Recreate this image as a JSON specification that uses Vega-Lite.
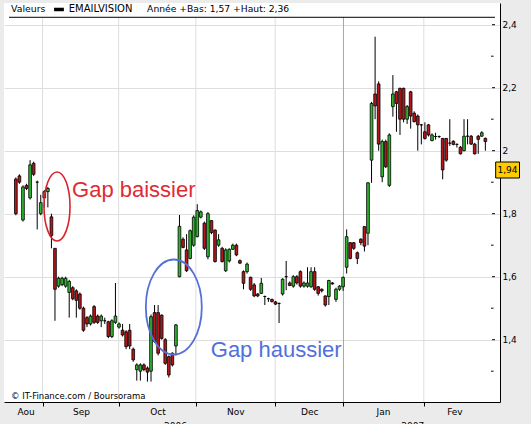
{
  "$schema": "https://vega.github.io/schema/vega-lite/v6.json",
  "width": 496,
  "height": 399,
  "autosize": {"type": "none"},
  "padding": {"left": 4, "top": 3, "right": 31, "bottom": 22},
  "background": "#ebebeb",
  "config": {"view": {"fill": "white", "stroke": null}, "font": "DejaVu Sans"},
  "resolve": {"axis": {"x": "independent", "y": "independent"}},
  "data": {"values": [{}]},
  "datasets": {
    "px": [
      {"i":0,"o":1.91,"c":1.80,"h":1.915,"l":1.795},
      {"i":1,"o":1.92,"c":1.90,"h":1.925,"l":1.895},
      {"i":2,"o":1.78,"c":1.885,"h":1.89,"l":1.775},
      {"i":3,"o":1.89,"c":1.88,"h":1.895,"l":1.875},
      {"i":4,"o":1.85,"c":1.955,"h":1.97,"l":1.845},
      {"i":5,"o":1.96,"c":1.925,"h":1.965,"l":1.92},
      {"i":6,"o":1.90,"c":1.90,"h":1.905,"l":1.75},
      {"i":7,"o":1.80,"c":1.835,"h":1.86,"l":1.795},
      {"i":8,"o":1.85,"c":1.87,"h":1.875,"l":1.82},
      {"i":9,"o":1.87,"c":1.88,"h":1.885,"l":1.82},
      {"i":10,"o":1.79,"c":1.73,"h":1.80,"l":1.69},
      {"i":11,"o":1.69,"c":1.56,"h":1.69,"l":1.46},
      {"i":12,"o":1.57,"c":1.595,"h":1.60,"l":1.565},
      {"i":13,"o":1.575,"c":1.595,"h":1.60,"l":1.57},
      {"i":14,"o":1.57,"c":1.595,"h":1.60,"l":1.565},
      {"i":15,"o":1.55,"c":1.585,"h":1.59,"l":1.47},
      {"i":16,"o":1.565,"c":1.53,"h":1.57,"l":1.525},
      {"i":17,"o":1.555,"c":1.525,"h":1.56,"l":1.47},
      {"i":18,"o":1.545,"c":1.50,"h":1.55,"l":1.495},
      {"i":19,"o":1.50,"c":1.43,"h":1.505,"l":1.425},
      {"i":20,"o":1.47,"c":1.45,"h":1.475,"l":1.44},
      {"i":21,"o":1.45,"c":1.475,"h":1.48,"l":1.445},
      {"i":22,"o":1.505,"c":1.455,"h":1.51,"l":1.45},
      {"i":23,"o":1.475,"c":1.455,"h":1.48,"l":1.45},
      {"i":24,"o":1.46,"c":1.475,"h":1.48,"l":1.44},
      {"i":25,"o":1.46,"c":1.46,"h":1.47,"l":1.45},
      {"i":26,"o":1.457,"c":1.41,"h":1.46,"l":1.405},
      {"i":27,"o":1.41,"c":1.46,"h":1.465,"l":1.405},
      {"i":28,"o":1.455,"c":1.475,"h":1.58,"l":1.45},
      {"i":29,"o":1.44,"c":1.45,"h":1.455,"l":1.435},
      {"i":30,"o":1.43,"c":1.415,"h":1.45,"l":1.41},
      {"i":31,"o":1.425,"c":1.378,"h":1.43,"l":1.37},
      {"i":32,"o":1.43,"c":1.38,"h":1.45,"l":1.37},
      {"i":33,"o":1.37,"c":1.336,"h":1.375,"l":1.33},
      {"i":34,"o":1.305,"c":1.32,"h":1.325,"l":1.27},
      {"i":35,"o":1.30,"c":1.32,"h":1.325,"l":1.27},
      {"i":36,"o":1.32,"c":1.305,"h":1.325,"l":1.30},
      {"i":37,"o":1.31,"c":1.297,"h":1.315,"l":1.267},
      {"i":38,"o":1.30,"c":1.473,"h":1.48,"l":1.267},
      {"i":39,"o":1.486,"c":1.394,"h":1.51,"l":1.39},
      {"i":40,"o":1.486,"c":1.357,"h":1.51,"l":1.35},
      {"i":41,"o":1.478,"c":1.404,"h":1.48,"l":1.40},
      {"i":42,"o":1.40,"c":1.325,"h":1.405,"l":1.32},
      {"i":43,"o":1.346,"c":1.288,"h":1.35,"l":1.28},
      {"i":44,"o":1.357,"c":1.32,"h":1.36,"l":1.315},
      {"i":45,"o":1.38,"c":1.447,"h":1.45,"l":1.35},
      {"i":46,"o":1.60,"c":1.76,"h":1.796,"l":1.598},
      {"i":47,"o":1.719,"c":1.693,"h":1.725,"l":1.69},
      {"i":48,"o":1.685,"c":1.619,"h":1.735,"l":1.615},
      {"i":49,"o":1.658,"c":1.746,"h":1.75,"l":1.655},
      {"i":50,"o":1.70,"c":1.789,"h":1.795,"l":1.695},
      {"i":51,"o":1.727,"c":1.81,"h":1.83,"l":1.725},
      {"i":52,"o":1.789,"c":1.806,"h":1.81,"l":1.785},
      {"i":53,"o":1.77,"c":1.69,"h":1.775,"l":1.685},
      {"i":54,"o":1.663,"c":1.80,"h":1.805,"l":1.655},
      {"i":55,"o":1.778,"c":1.74,"h":1.78,"l":1.735},
      {"i":56,"o":1.748,"c":1.648,"h":1.75,"l":1.645},
      {"i":57,"o":1.70,"c":1.717,"h":1.735,"l":1.695},
      {"i":58,"o":1.69,"c":1.648,"h":1.695,"l":1.645},
      {"i":59,"o":1.619,"c":1.685,"h":1.69,"l":1.615},
      {"i":60,"o":1.65,"c":1.687,"h":1.69,"l":1.645},
      {"i":61,"o":1.687,"c":1.70,"h":1.705,"l":1.685},
      {"i":62,"o":1.70,"c":1.669,"h":1.705,"l":1.665},
      {"i":63,"o":1.651,"c":1.643,"h":1.655,"l":1.64},
      {"i":64,"o":1.616,"c":1.579,"h":1.62,"l":1.56},
      {"i":65,"o":1.616,"c":1.64,"h":1.645,"l":1.61},
      {"i":66,"o":1.598,"c":1.56,"h":1.60,"l":1.555},
      {"i":67,"o":1.574,"c":1.539,"h":1.58,"l":1.535},
      {"i":68,"o":1.545,"c":1.539,"h":1.548,"l":1.535},
      {"i":69,"o":1.547,"c":1.579,"h":1.596,"l":1.545},
      {"i":70,"o":1.537,"c":1.537,"h":1.54,"l":1.51},
      {"i":71,"o":1.53,"c":1.53,"h":1.533,"l":1.52},
      {"i":72,"o":1.528,"c":1.521,"h":1.53,"l":1.518},
      {"i":73,"o":1.52,"c":1.513,"h":1.523,"l":1.51},
      {"i":74,"o":1.515,"c":1.515,"h":1.518,"l":1.453},
      {"i":75,"o":1.545,"c":1.592,"h":1.595,"l":1.54},
      {"i":76,"o":1.60,"c":1.60,"h":1.65,"l":1.557},
      {"i":77,"o":1.58,"c":1.572,"h":1.585,"l":1.57},
      {"i":78,"o":1.57,"c":1.60,"h":1.605,"l":1.565},
      {"i":79,"o":1.60,"c":1.58,"h":1.605,"l":1.575},
      {"i":80,"o":1.616,"c":1.57,"h":1.62,"l":1.565},
      {"i":81,"o":1.57,"c":1.58,"h":1.585,"l":1.565},
      {"i":82,"o":1.57,"c":1.58,"h":1.63,"l":1.565},
      {"i":83,"o":1.568,"c":1.616,"h":1.63,"l":1.565},
      {"i":84,"o":1.616,"c":1.56,"h":1.63,"l":1.555},
      {"i":85,"o":1.568,"c":1.547,"h":1.57,"l":1.54},
      {"i":86,"o":1.56,"c":1.555,"h":1.563,"l":1.55},
      {"i":87,"o":1.539,"c":1.51,"h":1.54,"l":1.505},
      {"i":88,"o":1.537,"c":1.588,"h":1.59,"l":1.51},
      {"i":89,"o":1.58,"c":1.577,"h":1.583,"l":1.575},
      {"i":90,"o":1.528,"c":1.56,"h":1.565,"l":1.52},
      {"i":91,"o":1.56,"c":1.57,"h":1.573,"l":1.555},
      {"i":92,"o":1.568,"c":1.598,"h":1.60,"l":1.555},
      {"i":93,"o":1.63,"c":1.727,"h":1.75,"l":1.61},
      {"i":94,"o":1.708,"c":1.658,"h":1.71,"l":1.655},
      {"i":95,"o":1.708,"c":1.69,"h":1.71,"l":1.685},
      {"i":96,"o":1.676,"c":1.658,"h":1.68,"l":1.64},
      {"i":97,"o":1.719,"c":1.708,"h":1.722,"l":1.70},
      {"i":98,"o":1.759,"c":1.697,"h":1.76,"l":1.68},
      {"i":99,"o":1.738,"c":1.898,"h":1.90,"l":1.70},
      {"i":100,"o":1.97,"c":2.15,"h":2.155,"l":1.898},
      {"i":101,"o":2.18,"c":2.142,"h":2.362,"l":2.10},
      {"i":102,"o":2.212,"c":2.021,"h":2.22,"l":2.00},
      {"i":103,"o":1.917,"c":2.029,"h":2.035,"l":1.90},
      {"i":104,"o":2.029,"c":1.949,"h":2.035,"l":1.945},
      {"i":105,"o":1.89,"c":2.05,"h":2.055,"l":1.885},
      {"i":106,"o":2.14,"c":2.18,"h":2.24,"l":2.108},
      {"i":107,"o":2.187,"c":2.15,"h":2.19,"l":2.06},
      {"i":108,"o":2.198,"c":2.10,"h":2.20,"l":2.05},
      {"i":109,"o":2.198,"c":2.10,"h":2.20,"l":2.09},
      {"i":110,"o":2.10,"c":2.14,"h":2.145,"l":2.085},
      {"i":111,"o":2.187,"c":2.11,"h":2.19,"l":2.07},
      {"i":112,"o":2.119,"c":2.092,"h":2.125,"l":2.09},
      {"i":113,"o":2.11,"c":2.082,"h":2.115,"l":2.00},
      {"i":114,"o":2.082,"c":2.082,"h":2.085,"l":2.02},
      {"i":115,"o":2.06,"c":2.039,"h":2.09,"l":2.035},
      {"i":116,"o":2.082,"c":2.05,"h":2.085,"l":2.045},
      {"i":117,"o":2.032,"c":2.05,"h":2.055,"l":2.03},
      {"i":118,"o":2.045,"c":2.045,"h":2.057,"l":2.035},
      {"i":119,"o":2.045,"c":2.045,"h":2.048,"l":2.04},
      {"i":120,"o":2.039,"c":1.939,"h":2.04,"l":1.909},
      {"i":121,"o":2.039,"c":1.97,"h":2.04,"l":1.965},
      {"i":122,"o":2.024,"c":2.024,"h":2.10,"l":2.015},
      {"i":123,"o":2.03,"c":2.02,"h":2.033,"l":2.017},
      {"i":124,"o":2.02,"c":2.02,"h":2.023,"l":2.01},
      {"i":125,"o":2.011,"c":1.99,"h":2.015,"l":1.988},
      {"i":126,"o":2.0,"c":2.046,"h":2.10,"l":1.998},
      {"i":127,"o":2.046,"c":2.046,"h":2.10,"l":2.02},
      {"i":128,"o":2.046,"c":2.021,"h":2.05,"l":2.018},
      {"i":129,"o":2.021,"c":1.99,"h":2.025,"l":1.988},
      {"i":130,"o":2.046,"c":2.036,"h":2.05,"l":1.99},
      {"i":131,"o":2.046,"c":2.057,"h":2.062,"l":2.044},
      {"i":132,"o":2.039,"c":2.029,"h":2.042,"l":2.0}
    ],
    "months": [
      {"b": 7.5}, {"b": 28.9}, {"b": 50.6}, {"b": 72.9}, {"b": 92.1}, {"b": 114.7}
    ],
    "ymajor": [{"v":1.4},{"v":1.6},{"v":1.8},{"v":2.0},{"v":2.2},{"v":2.4}],
    "yminor": [{"v":1.3},{"v":1.5},{"v":1.7},{"v":1.9},{"v":2.1},{"v":2.3}],
    "years": [{"t": "2006", "p": 44.9}, {"t": "2007", "p": 111.6}]
  },
  "layer": [
    {
      "data": {"name": "px"},
      "mark": {"type": "rule", "color": "#000000", "strokeWidth": 1, "opacity": 0},
      "encoding": {
        "x": {
          "field": "i", "type": "quantitative",
          "scale": {"domain": [-1.928, 134.71], "nice": false, "zero": false},
          "axis": {
            "values": [2.75, 7.5, 18.3, 28.9, 39.8, 50.6, 61.7, 72.9, 82.5, 92.1, 103.2, 114.7, 123.3],
            "grid": false,
            "domainColor": "#000000",
            "domainWidth": 1,
            "tickColor": "#000000",
            "tickSize": 4,
            "tickOpacity": {"condition": {"test": "indexof([7.5,28.9,50.6,72.9,92.1,114.7], datum.value) >= 0", "value": 1}, "value": 0},
            "labelExpr": "datum.value == 2.75 ? 'Aou' : datum.value == 18.3 ? 'Sep' : datum.value == 39.8 ? 'Oct' : datum.value == 61.7 ? 'Nov' : datum.value == 82.5 ? 'Dec' : datum.value == 103.2 ? 'Jan' : datum.value == 123.3 ? 'Fev' : ''",
            "labelFont": "DejaVu Sans",
            "labelFontSize": 9,
            "labelColor": "#000000",
            "labelPadding": 1,
            "labelOverlap": false,
            "labelFlush": false,
            "labelBound": false,
            "title": null
          }
        },
        "y": {
          "field": "l", "type": "quantitative",
          "scale": {"domain": [1.2022, 2.46887], "nice": false, "zero": false},
          "axis": {
            "orient": "right",
            "values": [1.4, 1.6, 1.8, 2.0, 2.2, 2.4],
            "grid": true,
            "gridColor": "#dedede",
            "gridWidth": 1,
            "ticks": false,
            "domainColor": "#000000",
            "domainWidth": 1,
            "labelExpr": "replace(toString(datum.value), '.', ',')",
            "labelFont": "DejaVu Sans",
            "labelFontSize": 9,
            "labelColor": "#000000",
            "labelPadding": 2,
            "labelBaseline": "middle",
            "labelOverlap": false,
            "title": null
          }
        },
        "y2": {"field": "h"}
      }
    },
    {
      "data": {"name": "months"},
      "mark": {"type": "rule", "strokeWidth": 1},
      "encoding": {
        "x": {"field": "b", "type": "quantitative", "axis": null},
        "y": {"datum": 1.2022, "type": "quantitative", "axis": null},
        "y2": {"datum": 2.4235},
        "color": {"condition": {"test": "datum.b == 92.1", "value": "#a6a6a6"}, "value": "#dedede"}
      }
    },
    {
      "data": {"name": "px"},
      "mark": {"type": "rule", "color": "#000000", "strokeWidth": 1},
      "encoding": {
        "x": {"field": "i", "type": "quantitative", "axis": null},
        "y": {"field": "l", "type": "quantitative", "axis": null},
        "y2": {"field": "h"}
      }
    },
    {
      "data": {"name": "px"},
      "mark": {"type": "bar", "size": 2.7, "stroke": "#000000", "strokeWidth": 0.8},
      "encoding": {
        "x": {"field": "i", "type": "quantitative", "axis": null},
        "y": {"field": "o", "type": "quantitative", "axis": null},
        "y2": {"field": "c"},
        "color": {"condition": {"test": "datum.c > datum.o", "value": "#2db82d"}, "value": "#b5161a"}
      }
    },
    {
      "data": {"name": "ymajor"},
      "mark": {"type": "rule", "color": "#000000", "strokeWidth": 1},
      "encoding": {
        "y": {"field": "v", "type": "quantitative", "axis": null},
        "x": {"datum": 133.88, "type": "quantitative", "axis": null},
        "x2": {"datum": 134.71}
      }
    },
    {
      "data": {"name": "yminor"},
      "mark": {"type": "rule", "color": "#000000", "strokeWidth": 1},
      "encoding": {
        "y": {"field": "v", "type": "quantitative", "axis": null},
        "x": {"datum": 133.61, "type": "quantitative", "axis": null},
        "x2": {"datum": 134.3}
      }
    },
    {
      "mark": {"type": "rule", "color": "#000000", "strokeWidth": 1},
      "encoding": {
        "x": {"datum": -1.928, "type": "quantitative", "axis": null},
        "x2": {"datum": 134.71},
        "y": {"datum": 2.4235, "type": "quantitative", "axis": null}
      }
    },
    {
      "mark": {"type": "text", "text": "Valeurs", "align": "left", "baseline": "middle", "font": "DejaVu Sans", "fontSize": 9.4, "color": "#000000"},
      "encoding": {
        "x": {"datum": -1.38, "type": "quantitative", "axis": null},
        "y": {"datum": 2.4483, "type": "quantitative", "axis": null}
      }
    },
    {
      "mark": {"type": "rule", "color": "#000000", "strokeWidth": 3.5},
      "encoding": {
        "x": {"datum": 10.74, "type": "quantitative", "axis": null},
        "x2": {"datum": 13.5},
        "y": {"datum": 2.4483, "type": "quantitative", "axis": null}
      }
    },
    {
      "mark": {"type": "text", "text": "EMAILVISION", "align": "left", "baseline": "middle", "font": "DejaVu Sans", "fontSize": 10, "color": "#000000"},
      "encoding": {
        "x": {"datum": 14.88, "type": "quantitative", "axis": null},
        "y": {"datum": 2.4483, "type": "quantitative", "axis": null}
      }
    },
    {
      "mark": {"type": "text", "text": "Année +Bas: 1,57 +Haut: 2,36", "align": "left", "baseline": "middle", "font": "DejaVu Sans", "fontSize": 9.2, "color": "#000000"},
      "encoding": {
        "x": {"datum": 36.9, "type": "quantitative", "axis": null},
        "y": {"datum": 2.4483, "type": "quantitative", "axis": null}
      }
    },
    {
      "mark": {"type": "text", "text": "© IT-Finance.com / Boursorama", "align": "left", "baseline": "middle", "font": "DejaVu Sans", "fontSize": 8.5, "color": "#000000"},
      "encoding": {
        "x": {"datum": -1.38, "type": "quantitative", "axis": null},
        "y": {"datum": 1.2222, "type": "quantitative", "axis": null}
      }
    },
    {
      "mark": {"type": "point", "filled": false, "stroke": "#d9232e", "strokeWidth": 1.6, "opacity": 1, "size": 4761,
        "shape": "M0.377,0C0.377,0.5523,0.2082,1,0,1C-0.2082,1,-0.377,0.5523,-0.377,0C-0.377,-0.5523,-0.2082,-1,0,-1C0.2082,-1,0.377,-0.5523,0.377,0Z"},
      "encoding": {
        "x": {"datum": 11.57, "type": "quantitative", "axis": null},
        "y": {"datum": 1.8229, "type": "quantitative", "axis": null}
      }
    },
    {
      "mark": {"type": "point", "filled": false, "stroke": "#5470d8", "strokeWidth": 1.8, "opacity": 1, "size": 9025,
        "shape": "M0.589,0C0.589,0.5523,0.3253,1,0,1C-0.3253,1,-0.589,0.5523,-0.589,0C-0.589,-0.5523,-0.3253,-1,0,-1C0.3253,-1,0.589,-0.5523,0.589,0Z"},
      "encoding": {
        "x": {"datum": 44.41, "type": "quantitative", "axis": null},
        "y": {"datum": 1.5038, "type": "quantitative", "axis": null}
      }
    },
    {
      "mark": {"type": "text", "text": "Gap baissier", "align": "left", "baseline": "alphabetic", "font": "Liberation Sans", "fontSize": 22, "color": "#dd2c35"},
      "encoding": {
        "x": {"datum": 15.8, "type": "quantitative", "axis": null},
        "y": {"datum": 1.854, "type": "quantitative", "axis": null}
      }
    },
    {
      "mark": {"type": "text", "text": "Gap haussier", "align": "left", "baseline": "alphabetic", "font": "Liberation Sans", "fontSize": 22, "color": "#5070dc"},
      "encoding": {
        "x": {"datum": 54.8, "type": "quantitative", "axis": null},
        "y": {"datum": 1.3435, "type": "quantitative", "axis": null}
      }
    },
    {
      "data": {"name": "years"},
      "mark": {"type": "text", "align": "center", "baseline": "top", "font": "DejaVu Sans", "fontSize": 9, "color": "#000000"},
      "encoding": {
        "x": {"field": "p", "type": "quantitative", "axis": null},
        "y": {"datum": 1.1397, "type": "quantitative", "axis": null},
        "text": {"field": "t"}
      }
    },
    {
      "mark": {"type": "rect", "fill": "#ffcc00", "stroke": "#000000", "strokeWidth": 1},
      "encoding": {
        "x": {"datum": 134.9, "type": "quantitative", "axis": null},
        "x2": {"datum": 141.6},
        "y": {"datum": 1.9641, "type": "quantitative", "axis": null},
        "y2": {"datum": 1.9133}
      }
    },
    {
      "mark": {"type": "text", "text": "1,94", "align": "left", "baseline": "middle", "font": "DejaVu Sans", "fontSize": 9, "color": "#000000"},
      "encoding": {
        "x": {"datum": 135.4, "type": "quantitative", "axis": null},
        "y": {"datum": 1.939, "type": "quantitative", "axis": null}
      }
    }
  ]
}
